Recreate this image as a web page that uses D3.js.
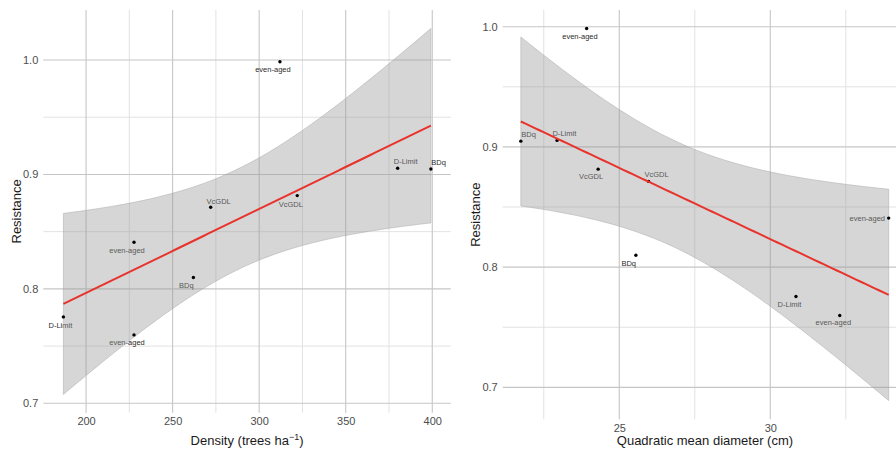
<!DOCTYPE html>
<html>
<head>
<meta charset="utf-8">
<script src="https://cdn.jsdelivr.net/npm/d3@7"></script>
<style>
  html, body { margin: 0; padding: 0; background: #fff; }
  svg { display: block; font-family: "Liberation Sans", Arial, sans-serif; }
</style>
</head>
<body>
<svg id="chart" width="896" height="454"></svg>
<script>
// Stand-level data: silvicultural treatment, drought resistance index,
// stand density and quadratic mean diameter.
const stands = ["even-aged", "D-Limit", "BDq", "VcGDL", "VcGDL", "even-aged", "BDq", "D-Limit", "even-aged"];
const resistance = [0.9985, 0.9054, 0.9048, 0.8713, 0.8815, 0.8408, 0.8099, 0.7755, 0.7598];
const density = [312, 380, 399.2, 272, 322, 227.7, 262, 186.9, 227.7];
const qmd = [23.92, 22.94, 21.74, 25.97, 24.30, 33.92, 25.55, 30.85, 32.30];

// Axis ticks
const densityTicks = [200, 250, 300, 350, 400];
const densityMinor = [225, 275, 325, 375];
const qmdTicks = [25, 30];
const qmdMinor = [22.5, 27.5, 32.5];
const resistanceTicks = [0.7, 0.8, 0.9, 1.0];
const resistanceMinor = [0.75, 0.85, 0.95];

// Label nudges (px) for each stand label, per panel
const densityLabelNudge = [[-7, 7.5], [8, -6.7], [7.7, -7], [8, -6.3], [-6.5, 8.3], [-7, 7.7], [-7, 7.6], [-3, 8], [-7, 7.7]];
const qmdLabelNudge = [[-6.7, 8], [7.3, -6.7], [7.7, -6.7], [8, -6.7], [-7, 7.7], [-21.4, 0], [-7.2, 8.3], [-6.5, 7.7], [-6.4, 7.3]];

// Student t quantile (0.975, 7 df) for the 95% confidence band of the linear fit
const T975 = 2.364624;

function linearFit(xs, ys, n) {
  const N = xs.length;
  const mx = d3.mean(xs), my = d3.mean(ys);
  const sxx = d3.sum(xs, x => (x - mx) ** 2);
  const sxy = d3.sum(xs, (x, i) => (x - mx) * (ys[i] - my));
  const b = sxy / sxx, a = my - b * mx;
  const rss = d3.sum(xs, (x, i) => (ys[i] - (a + b * x)) ** 2);
  const s = Math.sqrt(rss / (N - 2));
  const [x0, x1] = d3.extent(xs);
  return d3.range(n).map(i => {
    const x = x0 + (x1 - x0) * i / (n - 1);
    const fit = a + b * x;
    const se = s * Math.sqrt(1 / N + (x - mx) ** 2 / sxx);
    return { x, fit, lo: fit - T975 * se, hi: fit + T975 * se };
  });
}

const svg = d3.select("#chart");

function panel(cfg) {
  const x = d3.scaleLinear().domain(cfg.xDomain).range(cfg.xRange);
  const y = d3.scaleLinear().domain(cfg.yDomain).range(cfg.yRange);
  const [L, R] = cfg.xRange, [B, T] = cfg.yRange;
  const g = svg.append("g");

  // grid
  const grid = g.append("g");
  grid.selectAll(".hmin").data(resistanceMinor).join("line")
    .attr("x1", L).attr("x2", R).attr("y1", d => y(d)).attr("y2", d => y(d))
    .attr("stroke", "#e2e2e2").attr("stroke-width", 1);
  grid.selectAll(".vmin").data(cfg.xMinor).join("line")
    .attr("y1", T).attr("y2", B).attr("x1", d => x(d)).attr("x2", d => x(d))
    .attr("stroke", "#e2e2e2").attr("stroke-width", 1);
  grid.selectAll(".hmaj").data(resistanceTicks).join("line")
    .attr("x1", L).attr("x2", R).attr("y1", d => y(d)).attr("y2", d => y(d))
    .attr("stroke", "#c6c6c6").attr("stroke-width", 1.1);
  grid.selectAll(".vmaj").data(cfg.xTicks).join("line")
    .attr("y1", T).attr("y2", B).attr("x1", d => x(d)).attr("x2", d => x(d))
    .attr("stroke", "#c6c6c6").attr("stroke-width", 1.1);

  // axes (text only)
  const yAxis = d3.axisLeft(y).tickValues(resistanceTicks).tickFormat(d3.format(".1f")).tickSize(0).tickPadding(5);
  const ya = g.append("g").attr("transform", `translate(${L},0)`).call(yAxis);
  const xAxis = d3.axisBottom(x).tickValues(cfg.xTicks).tickFormat(d3.format("d")).tickSize(0).tickPadding(5);
  const xa = g.append("g").attr("transform", `translate(0,${B})`).call(xAxis);
  [ya, xa].forEach(a => {
    a.select(".domain").remove();
    a.selectAll("text").attr("fill", "#4d4d4d").style("font-size", "11px")
      .style("font-family", "Liberation Sans, Arial, sans-serif");
  });

  // axis titles
  g.append("text").attr("transform", `translate(${cfg.yTitleX},${(T + B) / 2}) rotate(-90)`)
    .attr("text-anchor", "middle").attr("fill", "#1a1a1a").style("font-size", "13px").text("Resistance");
  cfg.xTitle(g.append("text").attr("x", (L + Math.min(R, 896)) / 2 + cfg.xTitleShift).attr("y", 445)
    .attr("text-anchor", "middle").attr("fill", "#1a1a1a").style("font-size", "13px"));

  const xs = cfg.xs;
  // stand labels (beneath the confidence band)
  g.append("g").selectAll("text").data(stands).join("text")
    .attr("x", (d, i) => x(xs[i]) + cfg.nudge[i][0])
    .attr("y", (d, i) => y(resistance[i]) + cfg.nudge[i][1])
    .attr("dy", "0.35em").attr("text-anchor", "middle")
    .attr("fill", "#2b2b2b").style("font-size", "7.5px").text(d => d);

  // linear fit with 95% confidence band
  const fit = linearFit(xs, resistance, 80);
  g.append("path").datum(fit)
    .attr("d", d3.area().x(d => x(d.x)).y0(d => y(d.lo)).y1(d => y(d.hi)))
    .attr("fill", "#999999").attr("fill-opacity", 0.4)
    .attr("stroke", "#a8a8a8").attr("stroke-width", 0.5);

  // points
  g.append("g").selectAll("circle").data(stands).join("circle")
    .attr("cx", (d, i) => x(xs[i])).attr("cy", (d, i) => y(resistance[i]))
    .attr("r", 1.7).attr("fill", "#000");

  g.append("path").datum(fit)
    .attr("d", d3.line().x(d => x(d.x)).y(d => y(d.fit)))
    .attr("fill", "none").attr("stroke", "#e8332d").attr("stroke-width", 2);
}

panel({
  xs: density,
  xDomain: [175.3, 410.7], xRange: [43.3, 450.8],
  yDomain: [0.6918, 1.0437], yRange: [412.7, 10],
  xTicks: densityTicks, xMinor: densityMinor,
  nudge: densityLabelNudge, yTitleX: 21, xTitleShift: 0,
  xTitle: t => {
    t.append("tspan").text("Density (trees ha");
    t.append("tspan").attr("dy", -5).style("font-size", "9px").text("\u22121");
    t.append("tspan").attr("dy", 5).text(")");
  }
});

panel({
  xs: qmd,
  xDomain: [21.14, 34.53], xRange: [502.7, 907.1],
  yDomain: [0.6734, 1.0139], yRange: [419.3, 10],
  xTicks: qmdTicks, xMinor: qmdMinor,
  nudge: qmdLabelNudge, yTitleX: 480, xTitleShift: 5.6,
  xTitle: t => t.text("Quadratic mean diameter (cm)")
});
</script>
</body>
</html>
